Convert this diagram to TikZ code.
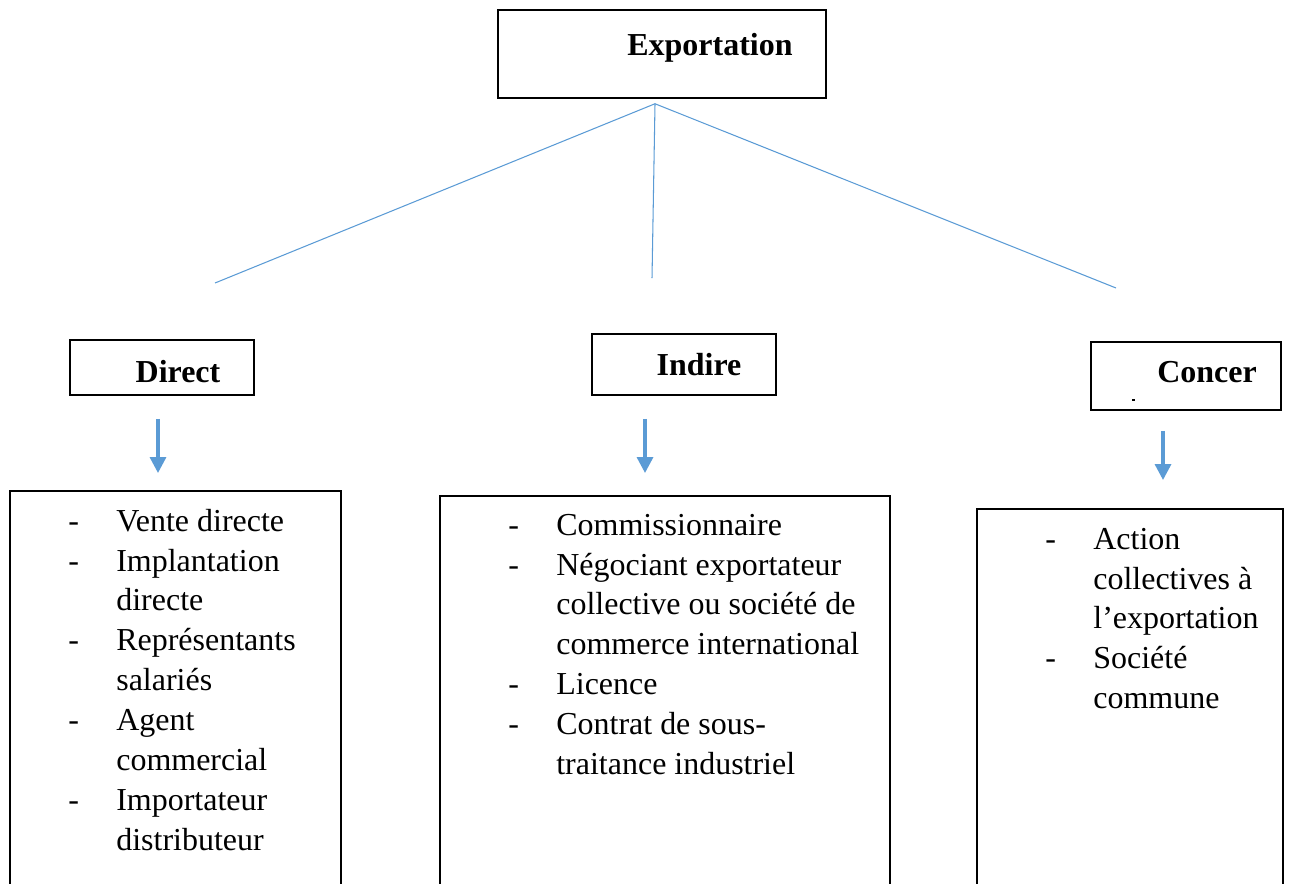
\documentclass[tikz,border=0pt]{standalone}
\usepackage{fontspec}
\setmainfont{Liberation Serif}
\usetikzlibrary{arrows.meta, calc}

\definecolor{bleu}{HTML}{5B9BD5}
\newcommand{\taille}{\fontsize{18.2}{22.76}\selectfont}
\tikzset{
  boite/.style={draw, line width=0.85pt, inner sep=0pt},
  titre/.style={font=\taille\bfseries},
  liste/.style={anchor=base west, inner sep=0pt},
  lien/.style={draw=bleu, line width=0.6pt},
  fleche/.style={draw=bleu, line width=1.9pt, -{Triangle[length=9pt, width=9pt]}},
}

\begin{document}
\begin{tikzpicture}[x=0.02cm, y=-0.02cm, font=\taille]
            \useasboundingbox (0,0) rectangle (1293,883);
            \clip (0,0) rectangle (1293,883);

            % top box
            \node[boite, minimum width=6.56cm, minimum height=1.76cm,
                  label={[titre, xshift=0.96cm, yshift=0.12cm]center:Exportation}] (export) at (662,54) {};

            % the three kinds
            \node[boite, minimum width=3.68cm, minimum height=1.10cm,
                  label={[titre, xshift=0.32cm, yshift=-0.08cm]center:Direct}] (direct) at (162,367.5) {};
            \node[boite, minimum width=3.68cm, minimum height=1.22cm,
                  label={[titre, xshift=0.30cm]center:Indire}] (indire) at (684,364.5) {};
            \node[boite, minimum width=3.80cm, minimum height=1.36cm,
                  label={[titre, xshift=0.42cm, yshift=0.07cm]center:Concer}] (concer) at (1186,376) {};
            \draw[line width=0.9pt] (1132,400) -- (1135,400);

            % links from the top box
            \coordinate (P1) at (215,283);
            \coordinate (P2) at (652,278);
            \coordinate (P3) at (1116,288);
            \coordinate (top) at ($(export.south)+(-7,5)$);
            \draw[lien] (P1) -- (top) -- (P3);
            \draw[lien] (top) -- (P2);

            % lists (bottom edges run off the page)
            \node[boite, anchor=north, minimum width=6.62cm, minimum height=10cm] (dlist) at (175.5,490) {};
            \node[boite, anchor=north, minimum width=9.00cm, minimum height=10cm] (ilist) at (665,495) {};
            \node[boite, anchor=north, minimum width=6.12cm, minimum height=10cm] (clist) at (1130,508) {};

            \draw[fleche] ($(direct.south)+(-4,23)$) -- ($(dlist.north)+(-17.5,-17)$);
            \draw[fleche] ($(indire.south)+(-39,23)$) -- ($(ilist.north)+(-20,-22)$);
            \draw[fleche] ($(concer.south)+(-23,20)$) -- ($(clist.north)+(33,-28)$);

            \node[liste] (dtext) at (68,531) {\begin{tabular}[t]{@{}p{0.96cm}@{}l@{}}
                - & Vente directe\\
                - & Implantation\\
                  & directe\\
                - & Représentants\\
                  & salariés\\
                - & Agent\\
                  & commercial\\
                - & Importateur\\
                  & distributeur
            \end{tabular}};
            \node[liste] (itext) at (508,535) {\begin{tabular}[t]{@{}p{0.96cm}@{}l@{}}
                - & Commissionnaire\\
                - & Négociant exportateur\\
                  & collective ou société de\\
                  & commerce international\\
                - & Licence\\
                - & Contrat de sous-\\
                  & traitance industriel
            \end{tabular}};
            \node[liste] (ctext) at (1045,549) {\begin{tabular}[t]{@{}p{0.96cm}@{}l@{}}
                - & Action\\
                  & collectives à\\
                  & l’exportation\\
                - & Société\\
                  & commune
            \end{tabular}};
        \end{tikzpicture}
\end{document}
